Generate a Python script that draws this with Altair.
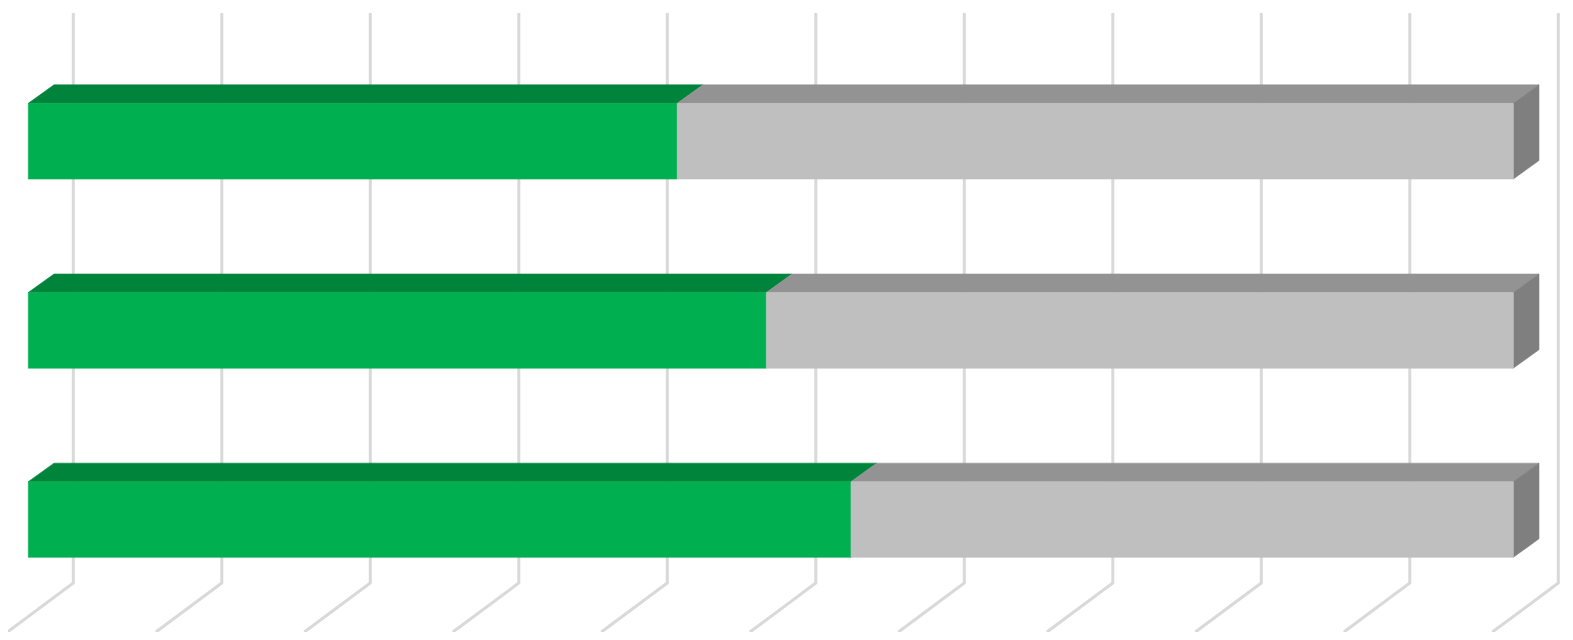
import altair as alt
import pandas as pd

# ---- data ----
rows = [1, 2, 3]                      # bar rows, top to bottom
green_share = [43.7, 49.7, 55.4]      # green segment (% of 100)
totals = [100, 100, 100]              # full stacked bar
grid_ticks = [0, 10, 20, 30, 40, 50, 60, 70, 80, 90, 100]

# ---- styling / 3-D geometry constants ----
GREEN_FRONT, GREEN_TOP = "#00B050", "#00843C"
GRAY_FRONT, GRAY_TOP, GRAY_SIDE = "#BFBFBF", "#939393", "#7F7F7F"
GRID = "#D9D9D9"
HALF = 0.2          # half thickness of bar front face (row units)
DX, DY = 1.73, 0.0978   # depth offset of bar top/side faces
GRID_BACK = 3.03    # back-wall offset of grid lines (x units)
GRID_TOP, GRID_FLOOR = 0.322, 3.336
FLOOR_DX, FLOOR_DY = -4.44, 0.259

front, top, side, grid = [], [], [], []
for r, g, t in zip(rows, green_share, totals):
    for seg, a, b, cf, ct in [("g", 0, g, GREEN_FRONT, GREEN_TOP),
                              ("r", g, t, GRAY_FRONT, GRAY_TOP)]:
        front.append(dict(x=a, x2=b, y=r - HALF, y2=r + HALF, c=cf))
        top.append(dict(id=f"{r}{seg}", y=r - HALF, x=a, x2=b, c=ct))
        top.append(dict(id=f"{r}{seg}", y=r - HALF - DY, x=a + DX, x2=b + DX, c=ct))
    side.append(dict(id=r, x=t, y=r - HALF, y2=r + HALF, c=GRAY_SIDE))
    side.append(dict(id=r, x=t + DX, y=r - HALF - DY, y2=r + HALF - DY, c=GRAY_SIDE))

for v in grid_ticks:
    gx = v + GRID_BACK
    grid.append(dict(id=v, o=0, x=gx, y=GRID_TOP))
    grid.append(dict(id=v, o=1, x=gx, y=GRID_FLOOR))
    grid.append(dict(id=v, o=2, x=gx + FLOOR_DX, y=GRID_FLOOR + FLOOR_DY))

xs = alt.Scale(domain=[0, 100], range=[20.3, 1505.3], nice=False, zero=False, clamp=False)
ys = alt.Scale(domain=[1, 3], range=[133.2, 511.5], nice=False, zero=False, clamp=False)

grid_layer = alt.Chart(pd.DataFrame(grid)).mark_line(color=GRID, strokeWidth=3).encode(
    x=alt.X("x:Q", scale=xs, axis=None),
    y=alt.Y("y:Q", scale=ys, axis=None),
    detail="id:N",
    order="o:Q",
)

front_layer = alt.Chart(pd.DataFrame(front)).mark_rect(strokeWidth=0.6).encode(
    x=alt.X("x:Q", scale=xs, axis=None),
    x2="x2:Q",
    y=alt.Y("y:Q", scale=ys, axis=None),
    y2="y2:Q",
    color=alt.Color("c:N", scale=None),
    stroke=alt.Stroke("c:N", scale=None),
)

top_layer = alt.Chart(pd.DataFrame(top)).mark_area(orient="horizontal", strokeWidth=0.6).encode(
    y=alt.Y("y:Q", scale=ys, axis=None),
    x=alt.X("x:Q", scale=xs, axis=None),
    x2="x2:Q",
    detail="id:N",
    color=alt.Color("c:N", scale=None),
    stroke=alt.Stroke("c:N", scale=None),
)

side_layer = alt.Chart(pd.DataFrame(side)).mark_area(orient="vertical", strokeWidth=0.6).encode(
    x=alt.X("x:Q", scale=xs, axis=None),
    y=alt.Y("y:Q", scale=ys, axis=None),
    y2="y2:Q",
    detail="id:N",
    color=alt.Color("c:N", scale=None),
    stroke=alt.Stroke("c:N", scale=None),
)

chart = alt.layer(grid_layer, top_layer, side_layer, front_layer).properties(
    width=1557, height=624, padding=0, autosize=alt.AutoSizeParams(type="none"),
    background="white",
).configure_view(stroke=None)

chart.save("out.html", embed_options={"renderer": "svg", "actions": False})
